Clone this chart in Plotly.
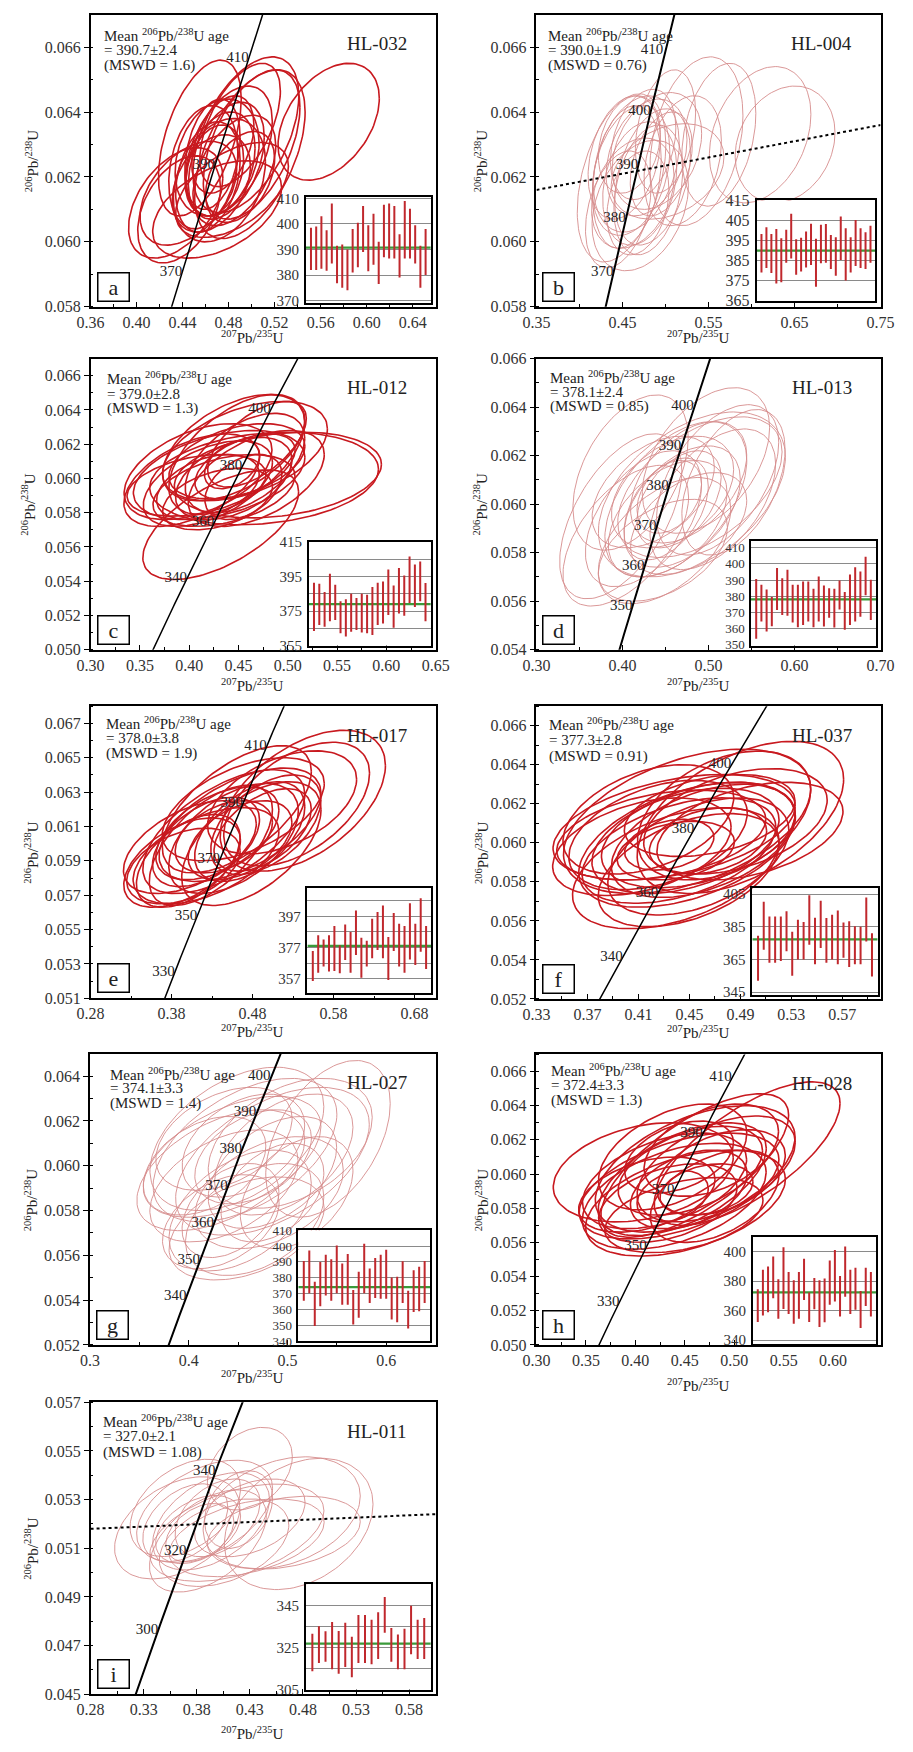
import numpy as np
import plotly.graph_objects as go

W, H = 913, 1752
LAM238 = 1.55125e-10
LAM235 = 9.8485e-10
FONT = "Liberation Serif"
BOLD_RED = "#c8191f"
LIGHT_RED = "#d68c8c"
BAR_RED = "#c0282d"
GREEN = "#3a9a3a"

# ================= DATA =================
# ellipses: (x centre, y centre, x half-extent, y half-extent, rho)
a_ell = [(0.455, 0.0632, 0.036, 0.0024, 0.50), (0.567, 0.0637, 0.044, 0.0018, 0.40),
         (0.495, 0.0633, 0.046, 0.0024, 0.50), (0.500, 0.0630, 0.042, 0.0023, 0.50),
         (0.490, 0.0636, 0.035, 0.0019, 0.55), (0.4985, 0.0627, 0.048, 0.0026, 0.50),
         (0.434, 0.0612, 0.041, 0.0017, 0.45), (0.445, 0.0615, 0.042, 0.0016, 0.45),
         (0.437, 0.0610, 0.036, 0.00165, 0.40), (0.470, 0.0610, 0.056, 0.0015, 0.45),
         (0.483, 0.0616, 0.049, 0.00146, 0.50), (0.470, 0.0626, 0.0365, 0.0018, 0.25),
         (0.473, 0.0624, 0.030, 0.0016, 0.30), (0.468, 0.0622, 0.025, 0.0014, 0.25),
         (0.478, 0.0625, 0.033, 0.0018, 0.40), (0.462, 0.0620, 0.028, 0.0017, 0.30),
         (0.480, 0.0628, 0.038, 0.0020, 0.45), (0.465, 0.0618, 0.034, 0.0015, 0.35),
         (0.475, 0.0630, 0.027, 0.0015, 0.40), (0.458, 0.0623, 0.030, 0.0019, 0.25),
         (0.485, 0.0622, 0.036, 0.0017, 0.45), (0.472, 0.0619, 0.040, 0.0019, 0.30),
         (0.466, 0.0627, 0.024, 0.0017, 0.30), (0.490, 0.0620, 0.030, 0.0014, 0.40)]
b_ell = [(0.4489, 0.06197, 0.0515, 0.00259, 0.40), (0.4706, 0.06112, 0.056, 0.00201, 0.30),
         (0.536, 0.0631, 0.054, 0.0026, 0.30), (0.562, 0.0633, 0.043, 0.0022, 0.30),
         (0.610, 0.0633, 0.059, 0.0021, 0.30), (0.639, 0.0630, 0.058, 0.0018, 0.20),
         (0.5024, 0.06217, 0.0655, 0.00147, 0.30), (0.460, 0.0622, 0.045, 0.0020, 0.30),
         (0.455, 0.0620, 0.040, 0.0022, 0.25), (0.466, 0.0624, 0.050, 0.0021, 0.30),
         (0.470, 0.0618, 0.043, 0.0019, 0.25), (0.478, 0.0626, 0.047, 0.0018, 0.30),
         (0.462, 0.0615, 0.048, 0.0017, 0.30), (0.485, 0.0620, 0.044, 0.0021, 0.35),
         (0.452, 0.0626, 0.042, 0.0019, 0.30), (0.474, 0.0630, 0.038, 0.0017, 0.30),
         (0.490, 0.0628, 0.052, 0.0018, 0.30), (0.468, 0.0612, 0.036, 0.0016, 0.25),
         (0.480, 0.0616, 0.040, 0.0020, 0.30), (0.458, 0.0630, 0.036, 0.0015, 0.25),
         (0.495, 0.0624, 0.036, 0.0016, 0.35), (0.445, 0.0610, 0.038, 0.0018, 0.35),
         (0.500, 0.0634, 0.035, 0.0019, 0.30), (0.520, 0.0625, 0.045, 0.0020, 0.30)]
c_ell = [(0.476, 0.0600, 0.116, 0.0027, 0.20), (0.490, 0.0602, 0.105, 0.0025, 0.25),
         (0.432, 0.0573, 0.079, 0.0032, 0.60), (0.445, 0.0618, 0.072, 0.0031, 0.50),
         (0.409, 0.0604, 0.075, 0.0028, 0.45), (0.4026, 0.0599, 0.0688, 0.0027, 0.50),
         (0.4566, 0.0616, 0.0836, 0.0029, 0.45), (0.4484, 0.0614, 0.069, 0.0035, 0.55),
         (0.4304, 0.0602, 0.087, 0.0026, 0.40), (0.419, 0.0597, 0.0655, 0.0025, 0.50),
         (0.4566, 0.0609, 0.0606, 0.0029, 0.50), (0.4566, 0.0607, 0.0508, 0.0019, 0.50),
         (0.419, 0.0595, 0.052, 0.0019, 0.40), (0.4435, 0.0608, 0.028, 0.0014, 0.40),
         (0.4452, 0.0600, 0.059, 0.0024, 0.45), (0.4353, 0.0593, 0.072, 0.0021, 0.40),
         (0.4075, 0.0596, 0.0705, 0.0018, 0.35), (0.4484, 0.0610, 0.069, 0.0022, 0.40),
         (0.468, 0.0600, 0.069, 0.0028, 0.50), (0.4688, 0.0620, 0.050, 0.0025, 0.60),
         (0.4288, 0.0588, 0.0557, 0.0018, 0.40), (0.455, 0.0595, 0.039, 0.0019, 0.40)]
d_ell = [(0.497, 0.0618, 0.074, 0.0030, 0.45), (0.398, 0.0595, 0.071, 0.0034, 0.55),
         (0.529, 0.0609, 0.060, 0.0030, 0.45), (0.447, 0.0581, 0.075, 0.0021, 0.45),
         (0.4094, 0.0613, 0.067, 0.0032, 0.45), (0.4807, 0.0604, 0.1087, 0.0034, 0.45),
         (0.462, 0.0602, 0.0825, 0.0032, 0.50), (0.490, 0.0607, 0.0955, 0.0029, 0.50),
         (0.4244, 0.0594, 0.0675, 0.0028, 0.50), (0.4038, 0.0587, 0.073, 0.0029, 0.55),
         (0.4694, 0.0599, 0.0675, 0.0025, 0.45), (0.4525, 0.0594, 0.069, 0.0024, 0.45),
         (0.4769, 0.0609, 0.0675, 0.0025, 0.45), (0.4657, 0.0602, 0.049, 0.0020, 0.45),
         (0.4507, 0.0598, 0.049, 0.0021, 0.45), (0.505, 0.0602, 0.073, 0.0029, 0.50),
         (0.4488, 0.0585, 0.077, 0.0026, 0.50), (0.5106, 0.0610, 0.071, 0.0031, 0.50),
         (0.4582, 0.0605, 0.071, 0.0023, 0.40), (0.4769, 0.0592, 0.0675, 0.0021, 0.45),
         (0.4544, 0.0603, 0.0375, 0.0015, 0.35), (0.4357, 0.0605, 0.071, 0.0023, 0.45)]
e_ell = [(0.542, 0.0625, 0.102, 0.0041, 0.50), (0.5344, 0.0623, 0.090, 0.0036, 0.50),
         (0.5164, 0.0624, 0.092, 0.0030, 0.45), (0.393, 0.0589, 0.072, 0.0026, 0.50),
         (0.4026, 0.0598, 0.082, 0.0027, 0.50), (0.4445, 0.0607, 0.100, 0.0036, 0.60),
         (0.4645, 0.0611, 0.100, 0.0033, 0.55), (0.4285, 0.0599, 0.076, 0.0035, 0.60),
         (0.4605, 0.0620, 0.092, 0.0037, 0.60), (0.4785, 0.0600, 0.086, 0.0036, 0.55),
         (0.4225, 0.0593, 0.090, 0.0028, 0.50), (0.4765, 0.0607, 0.068, 0.0029, 0.50),
         (0.4225, 0.0601, 0.066, 0.0026, 0.50), (0.4565, 0.0603, 0.080, 0.0032, 0.50),
         (0.4645, 0.0602, 0.064, 0.0023, 0.45), (0.4964, 0.0611, 0.068, 0.0029, 0.50),
         (0.3946, 0.0587, 0.070, 0.0022, 0.40), (0.4445, 0.0604, 0.060, 0.0021, 0.40),
         (0.4685, 0.0620, 0.100, 0.0030, 0.50), (0.4924, 0.0608, 0.060, 0.0024, 0.50),
         (0.4006, 0.0590, 0.064, 0.0027, 0.50), (0.4365, 0.0606, 0.076, 0.0027, 0.50)]
f_ell = [(0.490, 0.0613, 0.081, 0.0039, 0.50), (0.4482, 0.0611, 0.097, 0.0037, 0.45),
         (0.438, 0.0608, 0.095, 0.0027, 0.40), (0.4393, 0.0587, 0.081, 0.0031, 0.45),
         (0.4482, 0.0599, 0.085, 0.0032, 0.45), (0.4469, 0.0601, 0.0734, 0.0027, 0.40),
         (0.457, 0.0604, 0.076, 0.0027, 0.40), (0.4608, 0.0601, 0.072, 0.0029, 0.45),
         (0.4127, 0.0598, 0.070, 0.0025, 0.40), (0.4254, 0.0604, 0.070, 0.0028, 0.40),
         (0.4772, 0.0614, 0.068, 0.0033, 0.40), (0.4646, 0.0601, 0.046, 0.0017, 0.30),
         (0.4393, 0.0596, 0.046, 0.0015, 0.30), (0.4178, 0.0612, 0.067, 0.0028, 0.40),
         (0.457, 0.0593, 0.071, 0.0030, 0.45), (0.4659, 0.0614, 0.067, 0.0021, 0.35),
         (0.4975, 0.0606, 0.073, 0.0025, 0.40), (0.4418, 0.0596, 0.076, 0.0027, 0.45),
         (0.4342, 0.0599, 0.035, 0.0013, 0.30), (0.4494, 0.0586, 0.071, 0.0029, 0.45),
         (0.4279, 0.0604, 0.082, 0.0023, 0.35), (0.4861, 0.0611, 0.072, 0.0027, 0.40)]
g_ell = [(0.541, 0.0612, 0.063, 0.0035, 0.45), (0.4488, 0.0612, 0.088, 0.0032, 0.45),
         (0.4586, 0.0572, 0.0785, 0.0023, 0.40), (0.4325, 0.0598, 0.085, 0.0027, 0.50),
         (0.4439, 0.0604, 0.090, 0.0027, 0.50), (0.457, 0.0607, 0.093, 0.0032, 0.50),
         (0.4848, 0.0602, 0.098, 0.0033, 0.50), (0.5028, 0.0610, 0.083, 0.0029, 0.40),
         (0.4521, 0.0580, 0.072, 0.0027, 0.45), (0.4668, 0.0576, 0.070, 0.0025, 0.40),
         (0.4815, 0.0588, 0.075, 0.0025, 0.40), (0.4161, 0.0600, 0.062, 0.0022, 0.40),
         (0.4357, 0.0612, 0.069, 0.0023, 0.40), (0.4554, 0.0609, 0.062, 0.0023, 0.40),
         (0.4848, 0.0597, 0.065, 0.0025, 0.45), (0.4848, 0.0588, 0.052, 0.0022, 0.40),
         (0.4423, 0.0580, 0.049, 0.0021, 0.40), (0.4652, 0.0604, 0.059, 0.0021, 0.40),
         (0.4963, 0.0605, 0.070, 0.0027, 0.45), (0.4325, 0.0575, 0.059, 0.0021, 0.40),
         (0.5093, 0.0588, 0.057, 0.0025, 0.40), (0.4357, 0.0591, 0.075, 0.0025, 0.45)]
h_ell = [(0.513, 0.0612, 0.094, 0.0042, 0.70), (0.408, 0.0601, 0.091, 0.0029, 0.30),
         (0.4377, 0.0610, 0.075, 0.0031, 0.45), (0.4605, 0.0603, 0.101, 0.0037, 0.50),
         (0.4442, 0.0593, 0.101, 0.0031, 0.50), (0.4393, 0.0587, 0.093, 0.0031, 0.45),
         (0.4507, 0.0583, 0.101, 0.0031, 0.45), (0.4817, 0.0603, 0.080, 0.0031, 0.50),
         (0.4556, 0.0602, 0.073, 0.0026, 0.45), (0.4328, 0.0583, 0.070, 0.0023, 0.40),
         (0.4768, 0.0614, 0.068, 0.0027, 0.40), (0.4116, 0.0588, 0.069, 0.0022, 0.40),
         (0.4474, 0.0597, 0.085, 0.0033, 0.55), (0.454, 0.0591, 0.059, 0.0023, 0.40),
         (0.4377, 0.0587, 0.036, 0.0015, 0.30), (0.4866, 0.0601, 0.065, 0.0025, 0.40),
         (0.4295, 0.0596, 0.083, 0.0028, 0.45), (0.4801, 0.0587, 0.065, 0.0027, 0.45),
         (0.4491, 0.0576, 0.080, 0.0022, 0.40), (0.4442, 0.0610, 0.055, 0.0021, 0.40),
         (0.4719, 0.0591, 0.047, 0.0015, 0.30), (0.460, 0.0605, 0.095, 0.0042, 0.70)]
i_ell = [(0.476, 0.0520, 0.070, 0.0027, 0.30), (0.460, 0.05246, 0.074, 0.0023, 0.30),
         (0.430, 0.05427, 0.040, 0.0017, 0.30), (0.3616, 0.05184, 0.059, 0.0021, 0.40),
         (0.4178, 0.05164, 0.082, 0.0020, 0.45), (0.3692, 0.05266, 0.052, 0.0020, 0.40),
         (0.3874, 0.05252, 0.064, 0.0021, 0.45), (0.3935, 0.05211, 0.055, 0.0020, 0.45),
         (0.3813, 0.05177, 0.040, 0.0014, 0.40), (0.3829, 0.05164, 0.032, 0.0012, 0.40),
         (0.4194, 0.05259, 0.032, 0.0016, 0.30), (0.3905, 0.0513, 0.055, 0.0021, 0.50),
         (0.3996, 0.05225, 0.040, 0.0016, 0.40), (0.427, 0.05143, 0.073, 0.0016, 0.40),
         (0.430, 0.05225, 0.052, 0.0016, 0.40), (0.3692, 0.05205, 0.040, 0.0016, 0.40),
         (0.4057, 0.05123, 0.061, 0.0018, 0.40), (0.462, 0.05164, 0.072, 0.0015, 0.30)]

# weighted-mean inset bars (low / high ages, Ma)
a_lo = [382, 382, 382.5, 381.7, 384.5, 376.8, 375, 374, 381, 383, 389, 381.5, 384, 376.5, 387, 386.5, 386.5, 379, 386.5, 386.5, 384.5, 375, 380]
a_hi = [398.5, 399, 403, 397.5, 408, 391.5, 392, 390, 398, 400.5, 407, 399.5, 404, 393, 407.5, 408, 407, 396, 409, 406, 399.5, 391.5, 398]
b_lo = [379.1, 381.3, 378.8, 373.6, 374.3, 384, 386.1, 378, 379.6, 381.6, 382.9, 372, 383.7, 384, 380.8, 377.5, 385.3, 375.1, 379.1, 382.4, 381.3, 380.8, 384]
b_hi = [398.3, 401.6, 398.3, 400.8, 396.2, 400.4, 408.3, 395.6, 396.4, 399.5, 403.4, 395.9, 402.9, 403.2, 397.8, 396.7, 407, 401.1, 396.7, 405.2, 401.1, 399.1, 402.4]
c_lo = [363.5, 367, 366, 369.2, 369.8, 362.2, 360.3, 363.1, 364.1, 362.7, 362.2, 361.2, 367, 367.9, 372.7, 365.4, 373.6, 372.3, 379.7, 377.4, 380.7, 369.2]
c_hi = [391.4, 390.8, 386, 396.5, 390.2, 380.7, 381.8, 385, 382.6, 385, 384.5, 388.9, 391.4, 392.1, 399, 389.8, 399.8, 395.6, 406.5, 401.9, 403.6, 391.2]
d_lo = [353.8, 364.4, 358.3, 361.5, 371.5, 368.4, 368.0, 363.8, 360.9, 362.3, 364.4, 360.9, 364.4, 361.3, 366.8, 360.7, 371.9, 359.3, 362.3, 364.4, 367.4, 380.6, 365.4]
d_hi = [390.7, 387.1, 384.2, 379.6, 397.4, 391.1, 396.4, 387.1, 387.1, 389.1, 389.1, 384.6, 392.2, 386.7, 385.0, 384.6, 389.7, 382.6, 393.4, 397.8, 395.2, 404.3, 390.1]
e_lo = [355.5, 360.8, 364.7, 361.5, 361.9, 360.4, 368.9, 360.8, 372.1, 357.6, 364.7, 370.0, 375.3, 370.0, 356.1, 374.7, 364.7, 360.8, 369.3, 365.7, 374.2, 363.2]
e_hi = [374.7, 384.9, 382.1, 384.9, 390.8, 378.5, 391.7, 387.0, 400.8, 383.2, 381.3, 395.5, 399.8, 404.0, 383.8, 399.1, 392.3, 390.8, 405.5, 392.3, 408.7, 390.8]
f_lo = [352.0, 371.0, 363.0, 363.0, 364.0, 370.0, 355.0, 365.0, 365.0, 374.0, 362.0, 372.0, 363.0, 365.0, 362.0, 366.0, 360.4, 362.0, 362.0, 376.0, 354.6]
f_hi = [379.6, 400.4, 391.4, 391.4, 391.4, 394.6, 382.0, 389.4, 388.0, 404.4, 390.6, 401.0, 390.4, 392.4, 395.0, 387.6, 388.4, 385.4, 385.0, 403.0, 381.0]
g_lo = [365.4, 370.2, 349.4, 361.9, 368.8, 365.4, 370.2, 362.9, 362.9, 350.4, 354.6, 370.2, 364.0, 367.1, 366.7, 366.7, 353.5, 351.9, 364.0, 347.9, 358.3, 358.8, 364.0]
g_hi = [390.6, 397.3, 377.5, 390.0, 394.6, 391.7, 400.4, 389.0, 395.0, 372.3, 383.8, 401.5, 385.8, 392.5, 394.6, 397.7, 380.2, 380.6, 390.4, 371.7, 384.8, 386.9, 390.6]
h_lo = [352.3, 356.8, 359.0, 368.4, 354.5, 361.2, 357.7, 351.2, 354.5, 367.3, 352.3, 361.0, 349.0, 352.1, 364.0, 366.2, 356.1, 369.5, 357.7, 360.6, 348.3, 363.2, 356.1]
h_hi = [374.6, 387.8, 390.0, 396.8, 381.3, 403.0, 386.3, 380.7, 386.3, 395.2, 372.4, 382.2, 380.7, 381.8, 394.0, 401.2, 383.6, 403.5, 387.8, 389.2, 373.3, 389.2, 386.3]
i_lo = [313.8, 317.7, 318.4, 314.8, 312.7, 315.8, 311.0, 317.7, 317.7, 317.2, 319.7, 332.2, 318.4, 314.8, 314.8, 321.9, 319.7, 319.7]
i_hi = [331.7, 335.2, 332.8, 337.2, 333.0, 336.9, 330.2, 340.6, 340.6, 338.3, 341.9, 349.2, 334.4, 331.3, 334.1, 345.0, 338.3, 339.1]

samples = ["HL-032", "HL-004", "HL-012", "HL-013", "HL-017", "HL-037", "HL-027", "HL-028", "HL-011"]
letters = ["a", "b", "c", "d", "e", "f", "g", "h", "i"]
mean_ages = [390.7, 390.0, 379.0, 378.1, 378.0, 377.3, 374.1, 372.4, 327.0]
mean_errs = ["2.4", "1.9", "2.8", "2.4", "3.8", "2.8", "3.3", "3.3", "2.1"]
mswd = ["1.6", "0.76", "1.3", "0.85", "1.9", "0.91", "1.4", "1.3", "1.08"]

a_ages = [370, 390, 410]
b_ages = [370, 380, 390, 400, 410]
c_ages = [340, 360, 380, 400]
d_ages = [350, 360, 370, 380, 390, 400]
e_ages = [330, 350, 370, 390, 410]
f_ages = [340, 360, 380, 400]
g_ages = [340, 350, 360, 370, 380, 390, 400]
h_ages = [330, 350, 370, 390, 410]
i_ages = [300, 320, 340]

a_xt = [0.36, 0.40, 0.44, 0.48, 0.52, 0.56, 0.60, 0.64]
b_xt = [0.35, 0.45, 0.55, 0.65, 0.75]
c_xt = [0.30, 0.35, 0.40, 0.45, 0.50, 0.55, 0.60, 0.65]
d_xt = [0.30, 0.40, 0.50, 0.60, 0.70]
e_xt = [0.28, 0.38, 0.48, 0.58, 0.68]
f_xt = [0.33, 0.37, 0.41, 0.45, 0.49, 0.53, 0.57]
g_xt = [0.3, 0.4, 0.5, 0.6]
h_xt = [0.30, 0.35, 0.40, 0.45, 0.50, 0.55, 0.60, 0.65]
i_xt = [0.28, 0.33, 0.38, 0.43, 0.48, 0.53, 0.58]

a_yt = [0.058, 0.060, 0.062, 0.064, 0.066]
b_yt = [0.058, 0.060, 0.062, 0.064, 0.066]
c_yt = [0.050, 0.052, 0.054, 0.056, 0.058, 0.060, 0.062, 0.064, 0.066]
d_yt = [0.054, 0.056, 0.058, 0.060, 0.062, 0.064, 0.066]
e_yt = [0.051, 0.053, 0.055, 0.057, 0.059, 0.061, 0.063, 0.065, 0.067]
f_yt = [0.052, 0.054, 0.056, 0.058, 0.060, 0.062, 0.064, 0.066]
g_yt = [0.052, 0.054, 0.056, 0.058, 0.060, 0.062, 0.064]
h_yt = [0.050, 0.052, 0.054, 0.056, 0.058, 0.060, 0.062, 0.064, 0.066]
i_yt = [0.045, 0.047, 0.049, 0.051, 0.053, 0.055, 0.057]

a_it = [370, 380, 390, 400, 410]; a_il = ["370", "380", "390", "400", "410"]
b_it = [365, 375, 385, 395, 405, 415]; b_il = ["365", "375", "385", "395", "405", "415"]
c_it = [355, 365, 375, 385, 395, 405, 415]; c_il = ["355", "", "375", "", "395", "", "415"]
d_it = [350, 360, 370, 380, 390, 400, 410]; d_il = ["350", "360", "370", "380", "390", "400", "410"]
e_it = [357, 367, 377, 387, 397, 407]; e_il = ["357", "", "377", "", "397", ""]
f_it = [345, 365, 385, 405]; f_il = ["345", "365", "385", "405"]
g_it = [340, 350, 360, 370, 380, 390, 400, 410]; g_il = ["340", "350", "360", "370", "380", "390", "400", "410"]
h_it = [340, 360, 380, 400]; h_il = ["340", "360", "380", "400"]
i_it = [305, 315, 325, 335, 345]; i_il = ["305", "", "325", "", "345"]

# reference (dashed) lines in b and i
b_ref_x = [0.35, 0.75]; b_ref_y = [0.0616, 0.0636]
i_ref_x = [0.28, 0.605]; i_ref_y = [0.0518, 0.0524]

# ================= LAYOUT SPECS =================
P = [
    dict(ell=a_ell, lo=a_lo, hi=a_hi, ages=a_ages, xt=a_xt, yt=a_yt, it=a_it, il=a_il, xf=".2f",
         box=(79, 6.7, 435, 301.7), xr=(0.36, 0.66), yr=(0.058, 0.067), xm=0.02, ym=0.001,
         ibox=(301, 191, 430, 298), iyr=(369, 410.5), ifs=15, light=False, ref=None,
         txt=(11, 20, 35, 50.5), xts=30, yts=-59, tp={}),
    dict(ell=b_ell, lo=b_lo, hi=b_hi, ages=b_ages, xt=b_xt, yt=b_yt, it=b_it, il=b_il, xf=".2f",
         box=(539, 6.7, 894, 301.7), xr=(0.35, 0.75), yr=(0.058, 0.067), xm=0.05, ym=0.001,
         ibox=(766, 194.3, 888.7, 295.7), iyr=(365, 415), ifs=16, light=True, ref=(b_ref_x, b_ref_y),
         txt=(10, 20, 35, 50.5), xts=30, yts=-56, tp={410: "top left"}),
    dict(ell=c_ell, lo=c_lo, hi=c_hi, ages=c_ages, xt=c_xt, yt=c_yt, it=c_it, il=c_il, xf=".2f",
         box=(79, 354, 435, 648), xr=(0.30, 0.65), yr=(0.050, 0.067), xm=0.025, ym=0.001,
         ibox=(304, 539, 430, 644), iyr=(355, 415), ifs=15, light=False, ref=None,
         txt=(14, 19, 35, 50), xts=35, yts=-62, tp={}),
    dict(ell=d_ell, lo=d_lo, hi=d_hi, ages=d_ages, xt=d_xt, yt=d_yt, it=d_it, il=d_il, xf=".2f",
         box=(539, 354, 894, 648), xr=(0.30, 0.70), yr=(0.054, 0.066), xm=0.05, ym=0.001,
         ibox=(760.3, 538.3, 889.3, 644), iyr=(349.5, 414), ifs=13, light=True, ref=None,
         txt=(12, 18, 33, 48), xts=35, yts=-56, tp={}),
    dict(ell=e_ell, lo=e_lo, hi=e_hi, ages=e_ages, xt=e_xt, yt=e_yt, it=e_it, il=e_il, xf=".2f",
         box=(79, 705, 435, 1000), xr=(0.28, 0.706), yr=(0.051, 0.068), xm=0.05, ym=0.001,
         ibox=(302.7, 889, 430.7, 995), iyr=(347.5, 415), ifs=15, light=False, ref=None,
         txt=(13, 17, 32, 47), xts=33, yts=-59, tp={}),
    dict(ell=f_ell, lo=f_lo, hi=f_hi, ages=f_ages, xt=f_xt, yt=f_yt, it=f_it, il=f_il, xf=".2f",
         box=(539, 705, 894, 1000.7), xr=(0.33, 0.60), yr=(0.052, 0.067), xm=0.02, ym=0.001,
         ibox=(761.7, 888.3, 891, 997), iyr=(343, 409), ifs=15, light=False, ref=None,
         txt=(11, 18, 34, 50), xts=33, yts=-55, tp={}),
    dict(ell=g_ell, lo=g_lo, hi=g_hi, ages=g_ages, xt=g_xt, yt=g_yt, it=g_it, il=g_il, xf=".1f",
         box=(78.3, 1056, 435, 1350), xr=(0.30, 0.65), yr=(0.052, 0.065), xm=0.05, ym=0.001,
         ibox=(293.3, 1234.3, 429.3, 1346), iyr=(340, 410), ifs=13, light=True, ref=None,
         txt=(18, 20, 34, 50), xts=32, yts=-59, tp={}),
    dict(ell=h_ell, lo=h_lo, hi=h_hi, ages=h_ages, xt=h_xt, yt=h_yt, it=h_it, il=h_il, xf=".2f",
         box=(539, 1056.7, 894, 1350), xr=(0.30, 0.648), yr=(0.050, 0.067), xm=0.025, ym=0.001,
         ibox=(762, 1241, 889.3, 1349), iyr=(337.5, 410), ifs=15, light=False, ref=None,
         txt=(13, 16, 31, 46), xts=40, yts=-55, tp={}),
    dict(ell=i_ell, lo=i_lo, hi=i_hi, ages=i_ages, xt=i_xt, yt=i_yt, it=i_it, il=i_il, xf=".2f",
         box=(79, 1408, 435, 1702.7), xr=(0.28, 0.605), yr=(0.045, 0.057), xm=0.025, ym=0.001,
         ibox=(301, 1591.7, 430, 1698.3), iyr=(305, 355.2), ifs=15, light=True, ref=(i_ref_x, i_ref_y),
         txt=(10, 19, 34, 50), xts=39, yts=-59, tp={}),
]


def concordia(ages_ma):
    t = np.asarray(ages_ma, dtype=float) * 1e6
    return np.exp(LAM235 * t) - 1.0, np.exp(LAM238 * t) - 1.0


def ellipse_path(ell):
    th = np.linspace(0, 2 * np.pi, 120)
    xs, ys = [], []
    for cx, cy, sx, sy, r in ell:
        xs += list(cx + sx * np.cos(th)) + [None]
        ys += list(cy + sy * (r * np.cos(th) + np.sqrt(1 - r * r) * np.sin(th))) + [None]
    return xs, ys


def xdom(x0, x1):
    return [x0 / W, x1 / W]


def ydom(y0, y1):
    return [1 - y1 / H, 1 - y0 / H]


def aid(n):
    return "" if n == 1 else str(n)


fig = go.Figure()
layout = dict(width=W, height=H, margin=dict(l=0, r=0, t=0, b=0), paper_bgcolor="white",
              plot_bgcolor="rgba(0,0,0,0)", showlegend=False,
              font=dict(family=FONT, color="#222", size=14))
annotations = []
shapes = []

for k, p in enumerate(P):
    m = k + 1
    ins = k + 10
    mx, my = "x" + aid(m), "y" + aid(m)
    ix, iy = "x" + aid(ins), "y" + aid(ins)
    x0, y0, x1, y1 = p["box"]

    # --- main axes
    layout["xaxis" + aid(m)] = dict(
        domain=xdom(x0, x1), range=list(p["xr"]), anchor=my, showline=True, mirror=True,
        linecolor="black", linewidth=1.5, ticks="inside", ticklen=5, tickcolor="black",
        tickmode="array", tickvals=p["xt"], tickformat=p["xf"], showgrid=False, zeroline=False,
        tickfont=dict(family=FONT, size=16, color="#333"),
        minor=dict(ticks="inside", ticklen=3, tickcolor="black", dtick=p["xm"], tick0=p["xt"][0]))
    layout["yaxis" + aid(m)] = dict(
        domain=ydom(y0, y1), range=list(p["yr"]), anchor=mx, showline=True, mirror=True,
        linecolor="black", linewidth=1.5, ticks="outside", ticklen=5, tickcolor="black",
        tickmode="array", tickvals=p["yt"], tickformat=".3f", showgrid=False, zeroline=False,
        tickfont=dict(family=FONT, size=16, color="#333"),
        minor=dict(ticks="inside", ticklen=3, tickcolor="black", dtick=p["ym"], tick0=p["yt"][0]))

    # --- ellipses
    ex, ey = ellipse_path(p["ell"])
    fig.add_trace(go.Scatter(x=ex, y=ey, mode="lines", xaxis=mx, yaxis=my, hoverinfo="skip",
                             line=dict(color=LIGHT_RED if p["light"] else BOLD_RED,
                                       width=0.9 if p["light"] else 1.6)))
    # --- reference dashed line
    if p["ref"] is not None:
        fig.add_trace(go.Scatter(x=p["ref"][0], y=p["ref"][1], mode="lines", xaxis=mx, yaxis=my,
                                 hoverinfo="skip", line=dict(color="black", width=2, dash="3px,3px")))
    # --- concordia
    cxv, cyv = concordia(np.arange(200, 500, 1))
    fig.add_trace(go.Scatter(x=cxv, y=cyv, mode="lines", xaxis=mx, yaxis=my, hoverinfo="skip",
                             line=dict(color="black", width=2 if p["light"] else 1.5)))
    axv, ayv = concordia(p["ages"])
    fig.add_trace(go.Scatter(x=axv, y=ayv, mode="text", text=[str(a) for a in p["ages"]],
                             textposition=[p["tp"].get(a, "middle left") for a in p["ages"]],
                             xaxis=mx, yaxis=my, hoverinfo="skip",
                             textfont=dict(family=FONT, size=15, color="#222")))

    # --- inset axes
    ix0, iy0, ix1, iy1 = p["ibox"]
    n = len(p["lo"])
    layout["xaxis" + aid(ins)] = dict(
        domain=xdom(ix0, ix1), range=[0, n + 1], anchor=iy, showline=True, mirror=True,
        linecolor="black", linewidth=1.5, showticklabels=False, ticks="", showgrid=False,
        zeroline=False)
    layout["yaxis" + aid(ins)] = dict(
        domain=ydom(iy0, iy1), range=list(p["iyr"]), anchor=ix, showline=True, mirror=True,
        linecolor="black", linewidth=1.5, ticks="", tickmode="array", tickvals=p["it"],
        ticktext=p["il"], showgrid=True, gridcolor="#8a8a8a", gridwidth=1.3, zeroline=False,
        tickfont=dict(family=FONT, size=p["ifs"], color="#333"), ticklabelstandoff=2)
    shapes.append(dict(type="rect", xref=ix, yref=iy, x0=0, x1=n + 1, y0=p["iyr"][0],
                       y1=p["iyr"][1], fillcolor="white", line=dict(width=0), layer="below"))
    bx, by = [], []
    for j, (lo, hi) in enumerate(zip(p["lo"], p["hi"])):
        bx += [j + 1, j + 1, None]
        by += [lo, hi, None]
    fig.add_trace(go.Scatter(x=[0, n + 1], y=[mean_ages[k], mean_ages[k]], mode="lines",
                             xaxis=ix, yaxis=iy, hoverinfo="skip",
                             line=dict(color=GREEN, width=2.2)))
    fig.add_trace(go.Scatter(x=bx, y=by, mode="lines", xaxis=ix, yaxis=iy, hoverinfo="skip",
                             line=dict(color=BAR_RED, width=2)))

    # --- texts
    tx, t1, t2, t3 = p["txt"]
    lines = ["Mean <sup>206</sup>Pb/<sup>238</sup>U age", "= %.1f\u00b1%s" % (mean_ages[k], mean_errs[k]),
             "(MSWD = %s)" % mswd[k]]
    for ln, off in zip(lines, (t1, t2, t3)):
        annotations.append(dict(text=ln, xref=mx + " domain", yref=my + " domain", x=0, y=1,
                                xanchor="left", yanchor="middle", xshift=tx, yshift=-off,
                                showarrow=False, font=dict(family=FONT, size=15, color="#222")))
    annotations.append(dict(text=samples[k], xref=mx + " domain", yref=my + " domain", x=1, y=1,
                            xanchor="center", yanchor="middle", xshift=-59, yshift=-29,
                            showarrow=False, font=dict(family=FONT, size=19, color="#222")))
    annotations.append(dict(text=letters[k], xref=mx + " domain", yref=my + " domain", x=0, y=0,
                            xanchor="left", yanchor="bottom", xshift=6, yshift=5, width=28,
                            height=25, bordercolor="black", borderwidth=1.5, bgcolor="white",
                            showarrow=False, font=dict(family=FONT, size=22, color="#222")))
    annotations.append(dict(text="<sup>207</sup>Pb/<sup>235</sup>U", xref=mx + " domain",
                            yref=my + " domain", x=0.47, y=0, xanchor="center", yanchor="middle",
                            yshift=-p["xts"], showarrow=False,
                            font=dict(family=FONT, size=15, color="#222")))
    annotations.append(dict(text="<sup>206</sup>Pb/<sup>238</sup>U", xref=mx + " domain",
                            yref=my + " domain", x=0, y=0.5, xanchor="center", yanchor="middle",
                            xshift=p["yts"], textangle=-90, showarrow=False,
                            font=dict(family=FONT, size=15, color="#222")))

layout["annotations"] = annotations
layout["shapes"] = shapes
fig.update_layout(**layout)
fig.write_html("out.html")
